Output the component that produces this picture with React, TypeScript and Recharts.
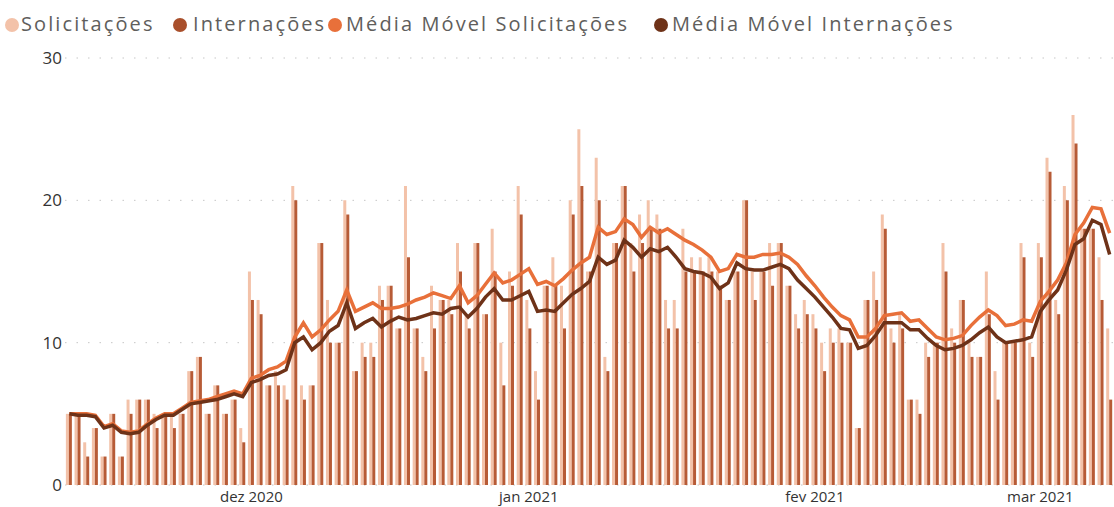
import React from 'react';
import { ComposedChart, Bar, Line, XAxis, YAxis, CartesianGrid } from 'recharts';

// dias de 10/11/2020 a 10/03/2021
const INICIO = Date.UTC(2020, 10, 10);

const solicitacoes = [
  5, 5, 3, 4, 2, 5, 2, 6, 6, 6, 5, 5, 5, 5, 8, 9, 5, 7, 5, 6,
  4, 15, 13, 7, 8, 7, 21, 7, 7, 17, 13, 10, 20, 8, 10, 10, 14, 14, 11, 21,
  11, 9, 14, 13, 13, 17, 12, 17, 12, 18, 10, 15, 21, 13, 8, 14, 16, 14, 20, 25,
  15, 23, 9, 17, 21, 17, 19, 20, 19, 13, 13, 18, 16, 16, 16, 15, 13, 15, 20, 15,
  15, 17, 17, 14, 12, 13, 12, 10, 11, 11, 10, 4, 13, 15, 19, 11, 12, 6, 6, 10,
  10, 17, 11, 13, 10, 9, 15, 8, 10, 10, 17, 10, 17, 23, 13, 21, 26, 18, 18, 16,
  11,
];

const internacoes = [
  5, 5, 2, 4, 2, 5, 2, 5, 6, 6, 4, 5, 4, 5, 8, 9, 5, 7, 5, 6,
  3, 13, 12, 7, 7, 6, 20, 6, 7, 17, 10, 10, 19, 8, 9, 9, 13, 14, 11, 16,
  11, 8, 11, 13, 12, 15, 11, 17, 12, 15, 7, 14, 19, 11, 6, 14, 14, 11, 19, 21,
  15, 20, 8, 17, 21, 15, 17, 18, 18, 11, 11, 15, 15, 15, 15, 14, 13, 15, 20, 13,
  15, 14, 17, 14, 11, 12, 11, 8, 10, 10, 10, 4, 13, 13, 18, 10, 11, 6, 5, 9,
  10, 15, 10, 13, 9, 9, 12, 6, 10, 10, 16, 9, 16, 22, 12, 20, 24, 18, 18, 13,
  6,
];

const mediaSolicitacoes = [
  5.0, 5.0, 5.0, 4.9, 4.1, 4.3, 3.8, 3.7, 3.8, 4.3, 4.7, 5.0, 5.0, 5.4, 5.8, 5.9, 6.0, 6.2, 6.4, 6.6,
  6.4, 7.5, 7.7, 8.1, 8.3, 8.7, 10.4, 11.4, 10.4, 10.9, 11.6, 12.2, 13.7, 12.2, 12.5, 12.8, 12.4, 12.4, 12.5, 12.7,
  13.0, 13.2, 13.5, 13.3, 13.1, 14.0, 12.8, 13.3, 14.1, 14.9, 14.2, 14.4, 14.8, 15.2, 14.1, 14.3, 14.0, 14.5, 15.1, 15.6,
  16.0, 18.1, 17.6, 17.8, 18.7, 18.3, 17.4, 18.1, 17.7, 18.0, 17.6, 17.2, 16.9, 16.5, 16.0, 15.0, 15.2, 16.2, 16.0, 16.0,
  16.2, 16.2, 16.3, 16.0, 15.5, 14.7, 14.0, 13.2, 12.5, 11.9, 11.6, 10.4, 10.4, 11.0, 11.9, 12.0, 12.1, 11.5, 11.6, 11.0,
  10.4, 10.2, 10.3, 10.5, 11.2, 11.8, 12.3, 11.9, 11.2, 11.3, 11.6, 11.5, 12.9, 13.6, 14.4, 15.6, 17.6, 18.4, 19.5, 19.4,
  17.7,
];

const mediaInternacoes = [
  5.0, 4.9, 4.9, 4.8, 4.0, 4.2, 3.7, 3.6, 3.7, 4.2, 4.6, 4.9, 4.9, 5.3, 5.7, 5.8, 5.9, 6.0, 6.2, 6.4,
  6.2, 7.2, 7.4, 7.7, 7.8, 8.1, 10.0, 10.4, 9.5, 10.0, 10.8, 11.2, 12.8, 11.0, 11.4, 11.7, 11.1, 11.5, 11.8, 11.6,
  11.7, 11.9, 12.1, 12.0, 12.4, 12.5, 11.8, 12.4, 13.2, 13.8, 13.0, 13.0, 13.3, 13.6, 12.2, 12.3, 12.2, 12.8, 13.4, 13.8,
  14.3, 16.0, 15.5, 15.8, 17.2, 16.7, 16.0, 16.6, 16.4, 16.7, 16.0, 15.2, 15.0, 14.9, 14.6, 13.8, 14.2, 15.6, 15.2, 15.1,
  15.1, 15.3, 15.5, 15.2, 14.4, 13.8, 13.2, 12.5, 11.8, 11.0, 10.9, 9.6, 9.8, 10.5, 11.4, 11.4, 11.4, 10.9, 10.9, 10.3,
  9.8, 9.5, 9.6, 9.8, 10.2, 10.7, 11.1, 10.4, 10.0, 10.1, 10.2, 10.4, 12.2, 13.0, 13.7, 15.1, 16.9, 17.3, 18.6, 18.3,
  16.2,
];

const MESES = ['jan', 'fev', 'mar', 'abr', 'mai', 'jun', 'jul', 'ago', 'set', 'out', 'nov', 'dez'];
// onde o eixo do original põe os rótulos de mês
const ticksMes = ['2020-12-01', '2021-01-02', '2021-02-04', '2021-03-02'];
const yTicks = [0, 10, 20, 30];

const dias = solicitacoes.map((_, i) => new Date(INICIO + i * 86400000).toISOString().slice(0, 10));

const data = dias.map((dia, i) => ({
  dia,
  solicitacoes: solicitacoes[i],
  internacoes: internacoes[i],
  mediaSolicitacoes: mediaSolicitacoes[i],
  mediaInternacoes: mediaInternacoes[i],
}));

const fmtMes = (d: string) => {
  const [ano, mes] = d.split('-');
  return `${MESES[Number(mes) - 1]} ${ano}`;
};

const FONT = "'Segoe UI', 'Open Sans', sans-serif";

const legenda = [
  { nome: 'Solicitações', cor: '#F3C2A9', left: 5, texto: 21 },
  { nome: 'Internações', cor: '#A94F2B', left: 173, texto: 193 },
  { nome: 'Média Móvel Solicitações', cor: '#E8703A', left: 328, texto: 346 },
  { nome: 'Média Móvel Internações', cor: '#6E3218', left: 654, texto: 672 },
];

export default function App() {
  return (
    <div style={{ position: 'absolute', left: 0, top: 0, width: 1114, height: 507, background: '#fff', overflow: 'hidden', fontFamily: FONT }}>
      {legenda.map((l) => (
        <React.Fragment key={l.nome}>
          <span style={{ position: 'absolute', top: 18, left: l.left, width: 14, height: 14, borderRadius: 7, background: l.cor }} />
          <span style={{ position: 'absolute', top: 11, left: l.texto, fontSize: 20, lineHeight: '26px', color: '#605E5C', letterSpacing: 2.1, whiteSpace: 'nowrap' }}>
            {l.nome}
          </span>
        </React.Fragment>
      ))}
      <ComposedChart width={1114} height={507} data={data} margin={{ top: 58, right: 0, left: 0, bottom: 0 }} barCategoryGap="10%" barGap={0}>
        <CartesianGrid vertical={false} stroke="#c6c6c6" strokeDasharray="1.5 10" />
        <XAxis dataKey="dia" ticks={ticksMes} interval={0} tickFormatter={fmtMes} axisLine={false} tickLine={false} tickSize={0} tickMargin={6} height={22} tick={{ fill: '#333', fontSize: 15, fontFamily: FONT }} />
        <YAxis domain={[0, 30]} ticks={yTicks} axisLine={false} tickLine={false} tickSize={0} tickMargin={3} width={65} tick={{ fill: '#333', fontSize: 17, fontFamily: FONT }} />
        <Bar dataKey="solicitacoes" fill="#F3C2A9" isAnimationActive={false} />
        <Bar dataKey="internacoes" fill="#B75B36" isAnimationActive={false} />
        <Line type="linear" dataKey="mediaSolicitacoes" stroke="#E8703A" strokeWidth={3.5} dot={false} isAnimationActive={false} />
        <Line type="linear" dataKey="mediaInternacoes" stroke="#6E3218" strokeWidth={3.5} dot={false} isAnimationActive={false} />
      </ComposedChart>
    </div>
  );
}
